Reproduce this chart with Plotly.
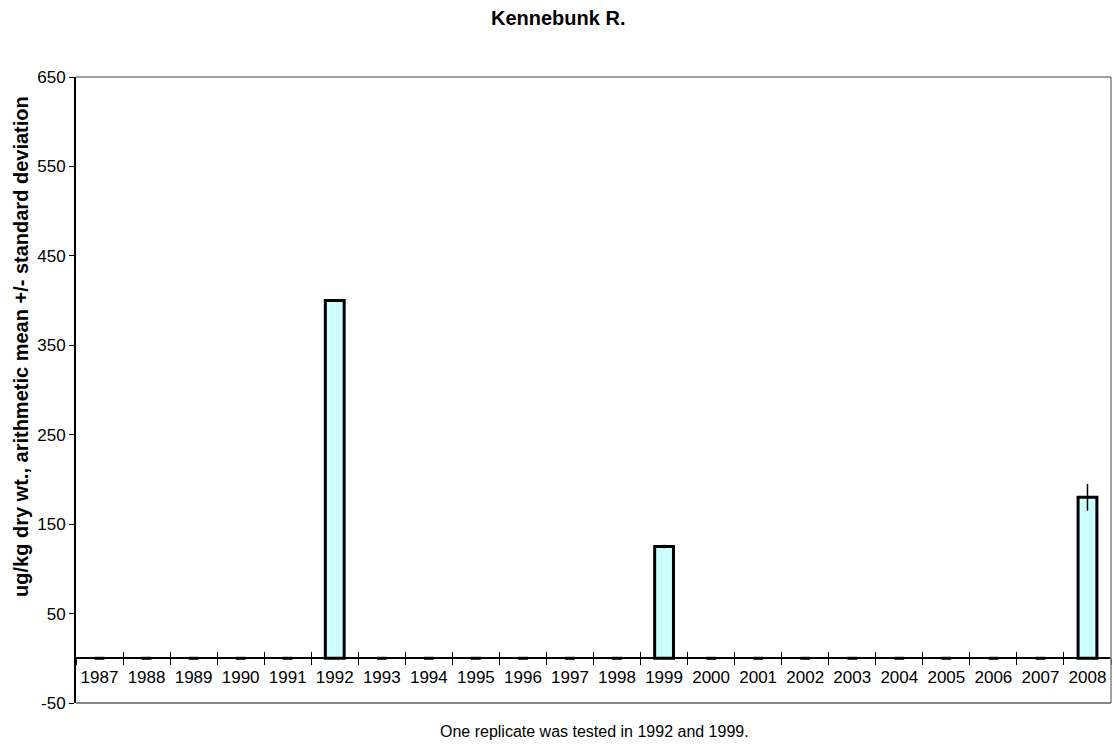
import plotly.graph_objects as go

years = [str(y) for y in range(1987, 2009)]
means = [0, 0, 0, 0, 0, 400, 0, 0, 0, 0, 0, 0, 125, 0, 0, 0, 0, 0, 0, 0, 0, 180]
sds = [0, 0, 0, 0, 0, 1, 0, 0, 0, 0, 0, 0, 2, 0, 0, 0, 0, 0, 0, 0, 0, 15]
ytick_vals = [-50, 50, 150, 250, 350, 450, 550, 650]

FONT = "Liberation Sans, Arial, sans-serif"

bar_years = [y for y, m in zip(years, means) if m > 0]
bar_means = [m for m in means if m > 0]
bar_sds = [s for s, m in zip(sds, means) if m > 0]
zero_years = [y for y, m in zip(years, means) if m == 0]
zero_vals = [m for m in means if m == 0]

fig = go.Figure()
fig.add_trace(go.Bar(
    x=bar_years, y=bar_means,
    marker=dict(color="#CCFFFF", line=dict(color="black", width=3)),
    error_y=dict(type="data", array=bar_sds, visible=True, color="black",
                 thickness=1.5, width=0),
    showlegend=False, hoverinfo="x+y",
))
fig.add_trace(go.Scatter(
    x=zero_years, y=zero_vals, mode="markers",
    marker=dict(symbol="line-ew", size=7, line=dict(color="black", width=3)),
    showlegend=False,
))
# invisible trace on second x axis for crossing ticks
fig.add_trace(go.Scatter(x=years, y=[None]*len(years), xaxis="x2", showlegend=False,
                         hoverinfo="skip"))

zero_pos = 50 / 700
fig.update_layout(
    width=1114, height=744,
    margin=dict(l=76, r=3, t=77, b=41),
    paper_bgcolor="white", plot_bgcolor="white",
    font=dict(family=FONT, size=16, color="black"),
    bargap=0.6,
    xaxis=dict(type="category", categoryorder="array", categoryarray=years,
               range=[-0.5, 21.5],
               anchor="free", position=zero_pos,
               showline=True, linecolor="black", linewidth=1.5,
               ticks="outside", tickson="boundaries", ticklen=6, tickcolor="black",
               tickwidth=1, showgrid=False, zeroline=False, ticklabelstandoff=4,
               tickfont=dict(family=FONT, size=17, color="black")),
    xaxis2=dict(type="category", categoryorder="array", categoryarray=years,
                range=[-0.5, 21.5], overlaying="x", anchor="free", position=zero_pos,
                ticks="inside", tickson="boundaries", ticklen=6, tickcolor="black",
                tickwidth=1, showticklabels=False, showgrid=False, showline=False,
                zeroline=False),
    yaxis=dict(range=[-50, 650], tickvals=ytick_vals, ticktext=[str(v) for v in ytick_vals],
               showline=True, linecolor="black", linewidth=2,
               ticks="outside", ticklen=5, tickcolor="black", showgrid=False, zeroline=False,
               tickfont=dict(family=FONT, size=17, color="black")),
    shapes=[
        dict(type="line", xref="paper", yref="paper", x0=0, x1=1, y0=1, y1=1,
             line=dict(color="#808080", width=1.5)),
        dict(type="line", xref="paper", yref="paper", x0=1, x1=1, y0=0, y1=1,
             line=dict(color="#808080", width=1.5)),
        dict(type="line", xref="paper", yref="paper", x0=0, x1=1, y0=0, y1=0,
             line=dict(color="#606060", width=1.5)),
    ],
    annotations=[
        dict(text="<b>Kennebunk R.</b>", xref="paper", yref="paper", x=0.466, y=1.094,
             showarrow=False, font=dict(family=FONT, size=20, color="black"),
             xanchor="center", yanchor="middle"),
        dict(text="One replicate was tested in 1992 and 1999.", xref="paper", yref="paper",
             x=0.501, y=-0.045, showarrow=False, font=dict(family=FONT, size=16, color="black"),
             xanchor="center", yanchor="middle"),
        dict(text="<b>ug/kg dry wt., arithmetic mean +/- standard deviation</b>",
             xref="paper", yref="paper", x=-0.053, y=0.569, textangle=-90,
             showarrow=False, font=dict(family=FONT, size=20, color="black"),
             xanchor="center", yanchor="middle"),
    ],
)

fig.write_html("out.html", config={"displayModeBar": False},
               post_script="document.body.style.margin='0px';")
